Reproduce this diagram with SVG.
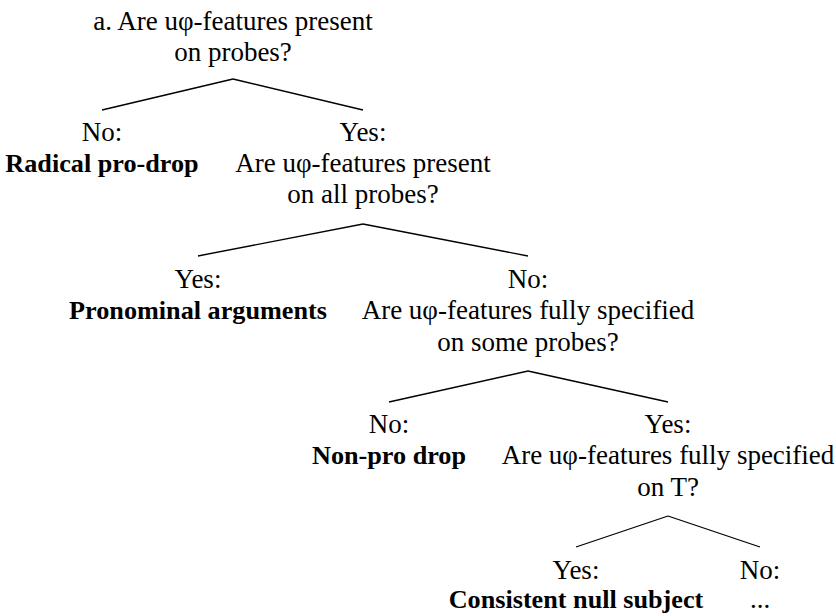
<svg xmlns="http://www.w3.org/2000/svg" width="836" height="616" viewBox="0 0 836 616">
<style>
text{font-family:"Liberation Serif","Times New Roman",serif;font-size:27px;fill:#000;text-anchor:middle}
.b{font-weight:bold;font-size:26.2px}
.c line{stroke:#000;stroke-width:1.3}
</style>
<rect width="836" height="616" fill="#fff"/>
<g class="c" id="connectors">
<line x1="233" y1="79" x2="102" y2="110"/>
<line x1="233" y1="79" x2="363" y2="110"/>
<line x1="363" y1="224" x2="198" y2="256"/>
<line x1="363" y1="224" x2="528" y2="256"/>
<line x1="528" y1="371" x2="389" y2="402"/>
<line x1="528" y1="371" x2="668" y2="402"/>
<line x1="668" y1="516" x2="576" y2="547"/>
<line x1="668" y1="516" x2="760" y2="547"/>
</g>
<g id="q1">
<text x="233" y="30">a. Are uφ-features present</text>
<text x="233" y="61">on probes?</text>
</g>
<g id="radical">
<text x="102" y="141">No:</text>
<text x="102" y="172" class="b">Radical pro-drop</text>
</g>
<g id="q2">
<text x="363" y="141">Yes:</text>
<text x="363" y="172">Are uφ-features present</text>
<text x="363" y="203">on all probes?</text>
</g>
<g id="pronominal">
<text x="198" y="288">Yes:</text>
<text x="198" y="319" class="b">Pronominal arguments</text>
</g>
<g id="q3">
<text x="528" y="288">No:</text>
<text x="528" y="319">Are uφ-features fully specified</text>
<text x="528" y="351">on some probes?</text>
</g>
<g id="nonpro">
<text x="389" y="433">No:</text>
<text x="389" y="464" class="b">Non-pro drop</text>
</g>
<g id="q4">
<text x="668" y="433">Yes:</text>
<text x="668" y="464">Are uφ-features fully specified</text>
<text x="668" y="496">on T?</text>
</g>
<g id="consistent">
<text x="576" y="579">Yes:</text>
<text x="576" y="608" class="b">Consistent null subject</text>
</g>
<g id="ellipsis">
<text x="760" y="579">No:</text>
<text x="760" y="608">...</text>
</g>
</svg>
